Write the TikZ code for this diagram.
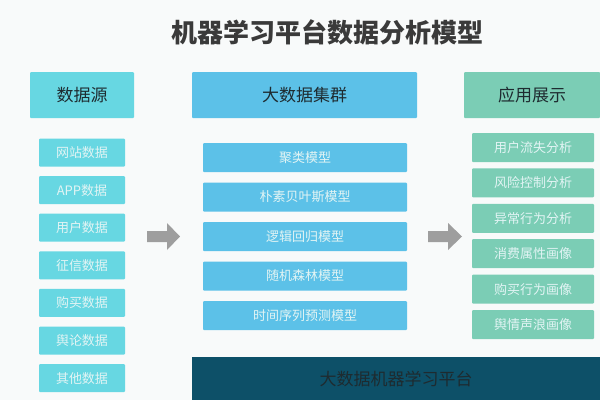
\documentclass[tikz,border=0pt]{standalone}
\usepackage{fontspec}
\newfontfamily\cjk{Noto Sans CJK SC}
\usetikzlibrary{positioning}
\definecolor{bg}{HTML}{F8FAFA}
\definecolor{cyanbox}{HTML}{67D7E2}
\definecolor{bluebox}{HTML}{5CC1E8}
\definecolor{greenbox}{HTML}{7BCDB5}
\definecolor{darkbox}{HTML}{0D5068}
\definecolor{hdrtext}{HTML}{1E2B30}
\definecolor{subtext}{HTML}{E2F4F4}
\definecolor{titletext}{HTML}{3A3A3A}
\definecolor{arrowgray}{HTML}{9E9E9E}
\tikzset{
  hdr/.style={rectangle, rounded corners=1pt, inner sep=0pt, minimum height=46pt, text=hdrtext, font=\cjk\fontsize{17}{17}\selectfont},
  sub/.style={rectangle, rounded corners=1pt, inner sep=0pt, text=subtext, font=\cjk\fontsize{13}{13}\selectfont},
  leftsub/.style={sub, fill=cyanbox, minimum width=86pt, minimum height=28pt},
  midsub/.style={sub, fill=bluebox, minimum width=204pt, minimum height=29pt},
  rightsub/.style={sub, fill=greenbox, minimum width=122pt, minimum height=29pt},
  blockarrow/.style={fill=arrowgray},
}
\begin{document}
\begin{tikzpicture}[x=1pt,y=-1pt]
\fill[bg] (0,0) rectangle (600,400);
\useasboundingbox (0,0) rectangle (600,400);
\node[text=titletext, font=\cjk\bfseries\fontsize{26}{26}\selectfont] (title) at (327,32) {机器学习平台数据分析模型};
% headers
\node[hdr, fill=cyanbox, minimum width=104pt] (hsrc) at (82,95) {数据源};
\node[hdr, fill=bluebox, minimum width=225pt] (hcluster) at (304.5,95) {大数据集群};
\node[hdr, fill=greenbox, minimum width=136pt] (happ) at (532,95) {应用展示};
% left column
\node[leftsub] (l1) at (82,152.5) {网站数据};
\node[leftsub] (l2) at (82,190.1) {APP数据};
\node[leftsub] (l3) at (82,227.7) {用户数据};
\node[leftsub] (l4) at (82,265.3) {征信数据};
\node[leftsub] (l5) at (82,302.9) {购买数据};
\node[leftsub] (l6) at (82,340.5) {舆论数据};
\node[leftsub] (l7) at (82,378.1) {其他数据};
% middle column
\node[midsub] (m1) at (305,157.5) {聚类模型};
\node[midsub] (m2) at (305,197) {朴素贝叶斯模型};
\node[midsub] (m3) at (305,236.5) {逻辑回归模型};
\node[midsub] (m4) at (305,276) {随机森林模型};
\node[midsub] (m5) at (305,315.5) {时间序列预测模型};
% right column
\node[rightsub] (r1) at (533,147.5) {用户流失分析};
\node[rightsub] (r2) at (533,182.9) {风险控制分析};
\node[rightsub] (r3) at (533,218.3) {异常行为分析};
\node[rightsub] (r4) at (533,253.7) {消费属性画像};
\node[rightsub] (r5) at (533,289.1) {购买行为画像};
\node[rightsub] (r6) at (533,324.5) {舆情声浪画像};
% bottom platform
\node[rectangle, fill=darkbox, inner sep=0pt, minimum width=408pt, minimum height=43pt, text=hdrtext, font=\cjk\fontsize{17}{17}\selectfont] (platform) at (396,378.5) {大数据机器学习平台};
% block arrows
\fill[blockarrow] (147,231) -- (167,231) -- (167,223) -- (180,236.5) -- (167,250) -- (167,242) -- (147,242) -- cycle;
\fill[blockarrow] (428,231) -- (448,231) -- (448,223) -- (462,236.5) -- (448,250) -- (448,242) -- (428,242) -- cycle;
\end{tikzpicture}
\end{document}
